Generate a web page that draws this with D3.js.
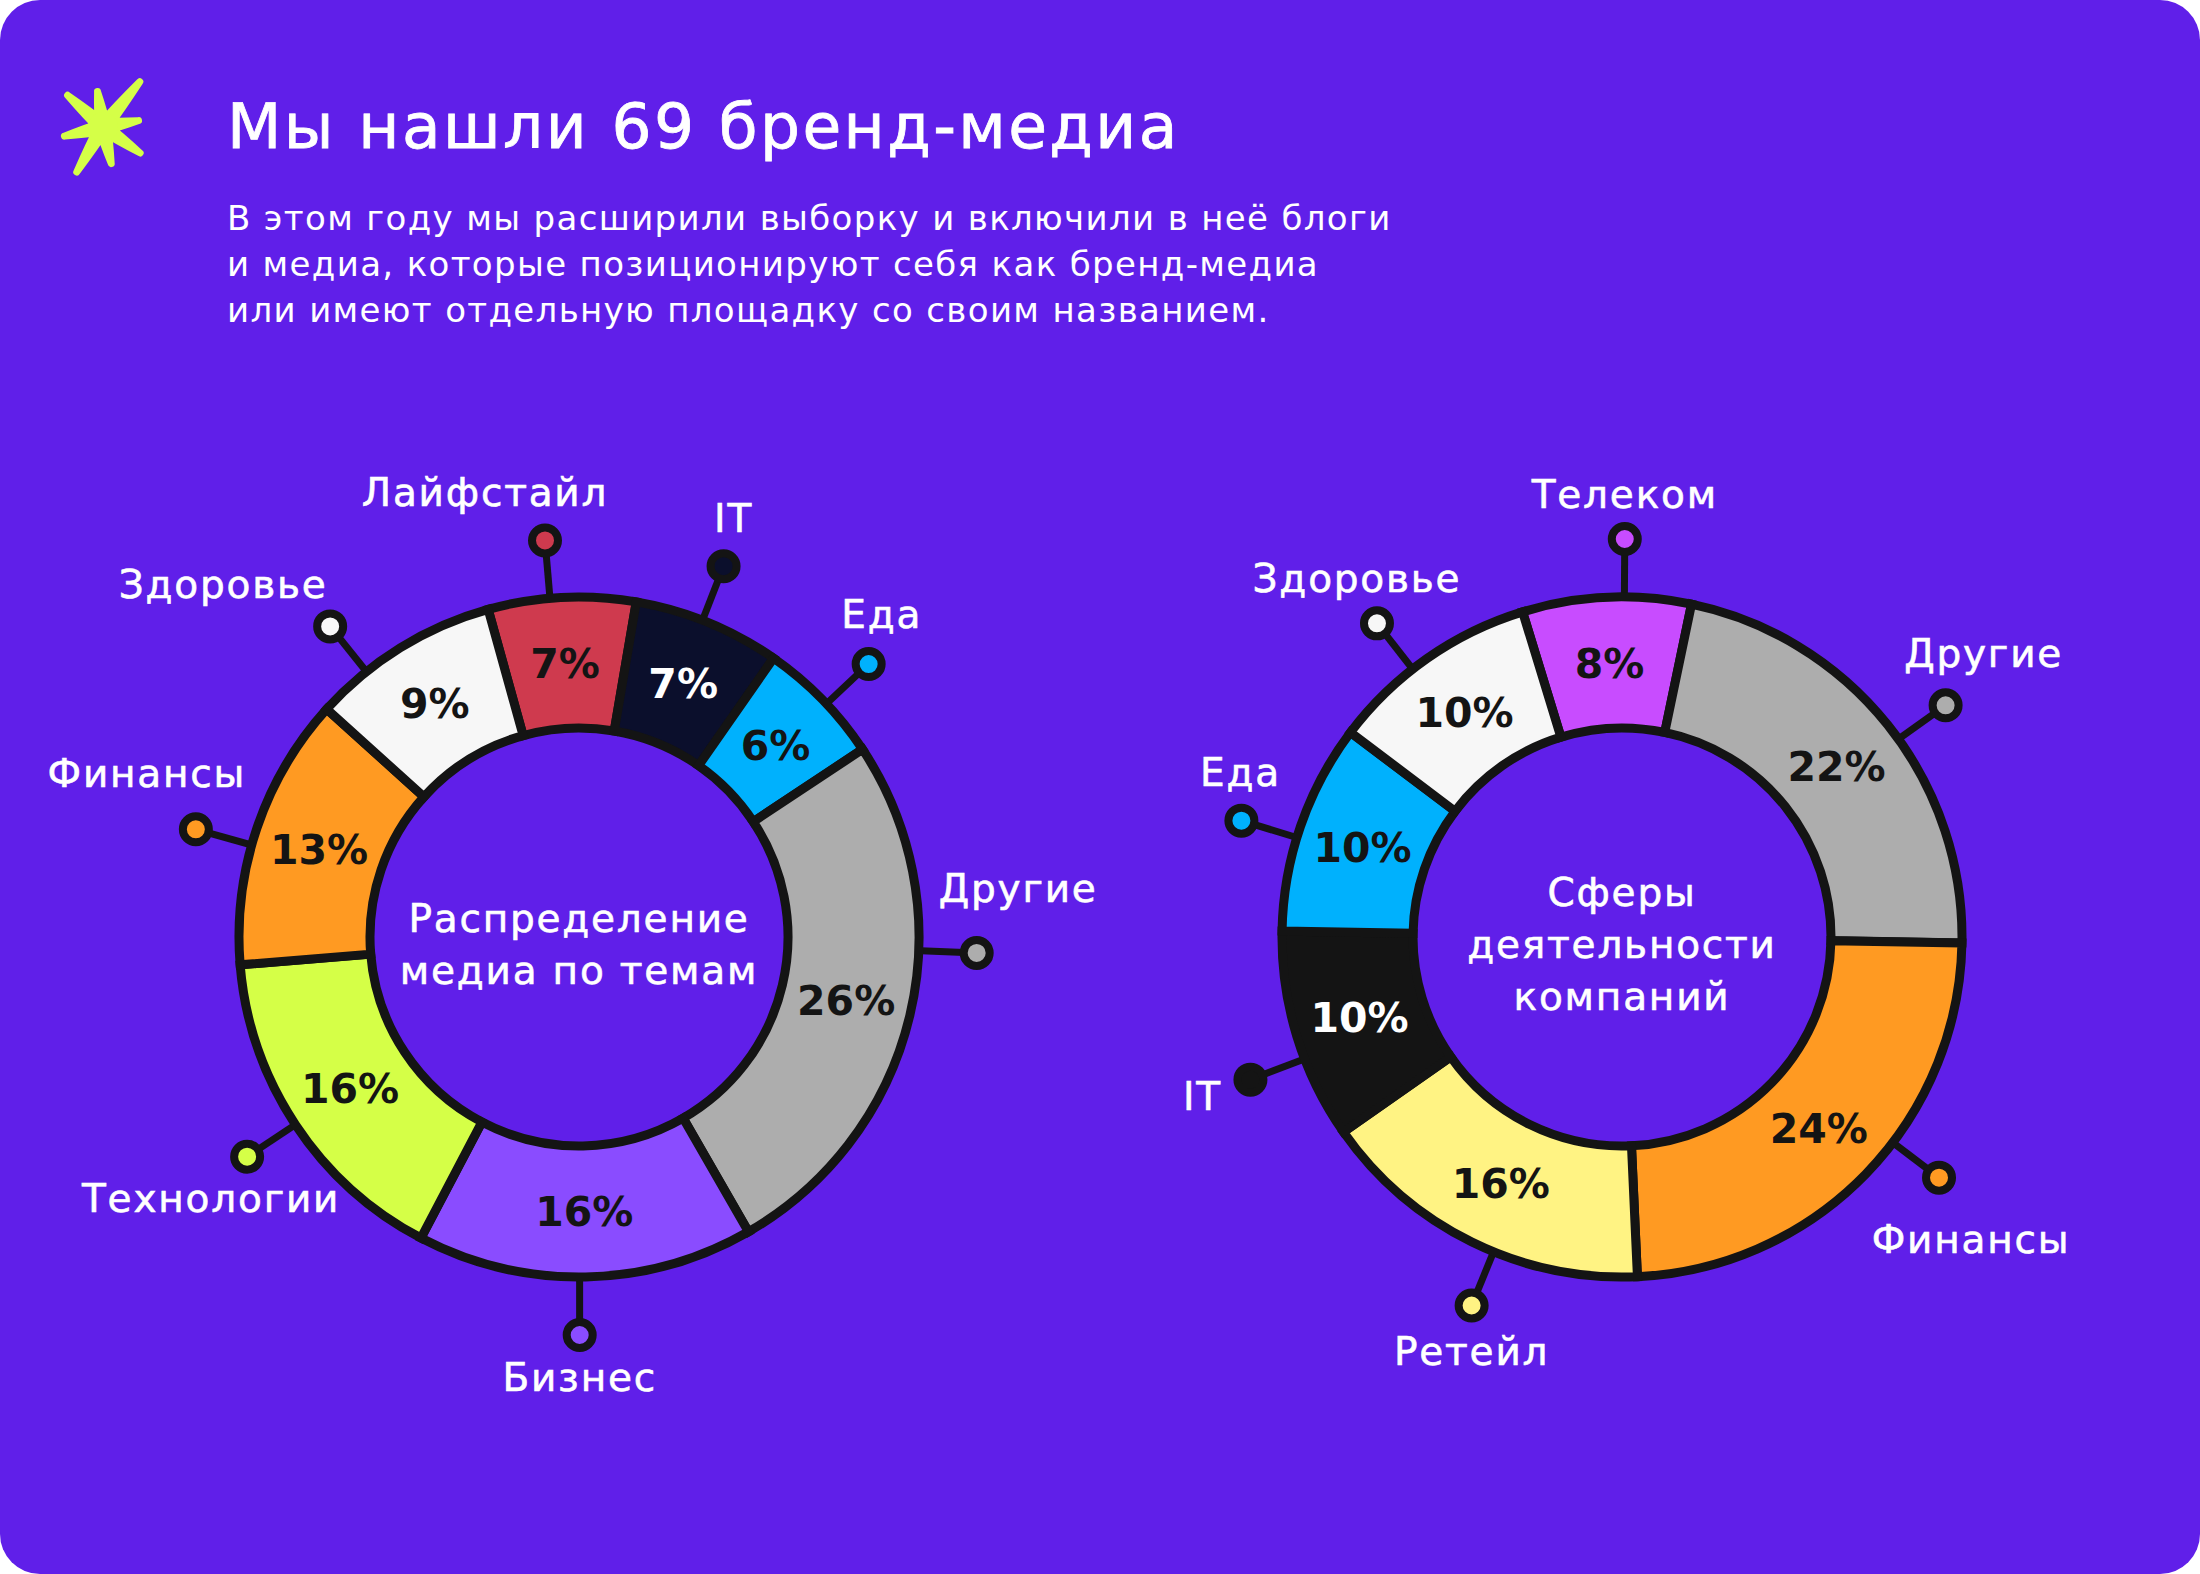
<!DOCTYPE html>
<html>
<head>
<meta charset="utf-8">
<script src="https://cdn.jsdelivr.net/npm/d3@7"></script>
<style>
  html, body { margin: 0; padding: 0; background: #ffffff; }
  svg { display: block; }
  text { font-family: "DejaVu Sans", sans-serif; }
</style>
</head>
<body>
<svg id="chart" width="2200" height="1574"></svg>
<script>
// Левая диаграмма: распределение медиа по темам (%)
const topicNames = ["Лайфстайл", "IT", "Еда", "Другие", "Бизнес", "Технологии", "Финансы", "Здоровье"];
const topicShares = [7, 7, 6, 26, 16, 16, 13, 9];
const topicColors = ["#cf3a4e", "#0b0f2c", "#00b1fd", "#adadad", "#8a4cff", "#d5ff47", "#ff9a22", "#f7f7f7"];

// Правая диаграмма: сферы деятельности компаний (%)
const sectorNames = ["Телеком", "Другие", "Финансы", "Ретейл", "IT", "Еда", "Здоровье"];
const sectorShares = [8, 22, 24, 16, 10, 10, 10];
const sectorColors = ["#c84cff", "#adadad", "#ff9a22", "#fff383", "#141414", "#00b1fd", "#f7f7f7"];

const titleText = "Мы нашли 69 бренд-медиа";
const subtitleLines = [
  "В этом году мы расширили выборку и включили в неё блоги",
  "и медиа, которые позиционируют себя как бренд-медиа",
  "или имеют отдельную площадку со своим названием."
];

const BG = "#601fe9";
const INK = "#141414";
const W = 2200, H = 1574;
const R_IN = 209, R_OUT = 340, R_DOT = 398;
const rad = (deg) => deg * Math.PI / 180;

// раскладка выносок: сдвиг угла точки (град.) и смещение подписи от точки
const topicCallouts = {
  "Лайфстайл":  { nudge: -2,  dx: -60,  dy: -48, anchor: "middle" },
  "IT":         { nudge: -1,  dx: 10,   dy: -48, anchor: "middle" },
  "Еда":        { nudge: 1,   dx: 13,   dy: -50, anchor: "middle" },
  "Другие":     { nudge: -11, dx: -38,  dy: -65, anchor: "start" },
  "Бизнес":     { nudge: 1,   dx: 0,    dy: 42,  anchor: "middle" },
  "Технологии": { nudge: 0,   dx: -36,  dy: 42,  anchor: "middle" },
  "Финансы":    { nudge: -3,  dx: -49,  dy: -56, anchor: "middle" },
  "Здоровье":   { nudge: -7,  dx: -107, dy: -42, anchor: "middle" }
};
const sectorCallouts = {
  "Телеком":  { nudge: 3,  dx: 0,   dy: -45, anchor: "middle" },
  "Другие":   { nudge: 3,  dx: 38,  dy: -52, anchor: "middle" },
  "Финансы":  { nudge: -7, dx: 32,  dy: 62,  anchor: "middle" },
  "Ретейл":   { nudge: -4, dx: 0,   dy: 46,  anchor: "middle" },
  "IT":       { nudge: -4, dx: -48, dy: 17,  anchor: "middle" },
  "Еда":      { nudge: -2, dx: -1,  dy: -48, anchor: "middle" },
  "Здоровье": { nudge: -3, dx: -20, dy: -45, anchor: "middle" }
};

const svg = d3.select("#chart");

// фон-карточка
svg.append("rect")
  .attr("width", W).attr("height", H)
  .attr("rx", 40).attr("ry", 40)
  .attr("fill", BG);

// звёздочка
drawStar(svg.append("g").attr("transform", "translate(103,127)"));

svg.append("text")
  .attr("x", 227).attr("y", 148)
  .attr("fill", "#ffffff")
  .attr("font-size", 63)
  .attr("letter-spacing", 2.4)
  .attr("stroke", "#ffffff")
  .attr("stroke-width", 0.8)
  .text(titleText);

svg.append("g").selectAll("text")
  .data(subtitleLines)
  .join("text")
  .attr("x", 227)
  .attr("y", (d, i) => 230 + i * 46)
  .attr("fill", "#ffffff")
  .attr("font-size", 34)
  .attr("letter-spacing", 1.35)
  .text(d => d);

drawDonut({
  cx: 579, cy: 937,
  names: topicNames, values: topicShares, colors: topicColors,
  start: -15.5, callouts: topicCallouts,
  center: ["Распределение", "медиа по темам"], centerY: 918
});

drawDonut({
  cx: 1622, cy: 937,
  names: sectorNames, values: sectorShares, colors: sectorColors,
  start: -17, callouts: sectorCallouts,
  center: ["Сферы", "деятельности", "компаний"], centerY: 892
});

function drawDonut(cfg) {
  const rows = cfg.names.map((n, i) => ({ name: n, value: cfg.values[i], color: cfg.colors[i] }));
  const pie = d3.pie()
    .sort(null)
    .value(d => d.value)
    .startAngle(rad(cfg.start))
    .endAngle(rad(cfg.start + 360));
  const arcs = pie(rows);
  const arc = d3.arc().innerRadius(R_IN).outerRadius(R_OUT);
  const labelArc = d3.arc().innerRadius((R_IN + R_OUT) / 2).outerRadius((R_IN + R_OUT) / 2);

  const g = svg.append("g").attr("transform", `translate(${cfg.cx},${cfg.cy})`);

  // выноски (линия + точка)
  const call = g.append("g").selectAll("g")
    .data(arcs)
    .join("g")
    .each(function (d) {
      const c = cfg.callouts[d.data.name];
      const a = (d.startAngle + d.endAngle) / 2 + rad(c.nudge);
      d.callX = Math.sin(a) * R_DOT;
      d.callY = -Math.cos(a) * R_DOT;
      d.lineX = Math.sin(a) * (R_OUT - 4);
      d.lineY = -Math.cos(a) * (R_OUT - 4);
    });
  call.append("line")
    .attr("x1", d => d.lineX).attr("y1", d => d.lineY)
    .attr("x2", d => d.callX).attr("y2", d => d.callY)
    .attr("stroke", INK).attr("stroke-width", 7);
  call.append("circle")
    .attr("cx", d => d.callX).attr("cy", d => d.callY)
    .attr("r", 13)
    .attr("fill", d => d.data.color)
    .attr("stroke", INK).attr("stroke-width", 8);
  call.append("text")
    .attr("x", d => d.callX + cfg.callouts[d.data.name].dx)
    .attr("y", d => d.callY + cfg.callouts[d.data.name].dy)
    .attr("dy", "0.35em")
    .attr("text-anchor", d => cfg.callouts[d.data.name].anchor)
    .attr("fill", "#ffffff")
    .attr("stroke", "#ffffff")
    .attr("stroke-width", 0.6)
    .attr("font-size", 39)
    .attr("letter-spacing", 1.8)
    .text(d => d.data.name);

  // кольцо
  g.append("g").selectAll("path")
    .data(arcs)
    .join("path")
    .attr("d", arc)
    .attr("fill", d => d.data.color)
    .attr("stroke", INK)
    .attr("stroke-width", 9)
    .attr("stroke-linejoin", "miter");

  // проценты
  g.append("g").selectAll("text")
    .data(arcs)
    .join("text")
    .attr("transform", d => `translate(${labelArc.centroid(d)})`)
    .attr("dy", "0.36em")
    .attr("text-anchor", "middle")
    .attr("font-size", 41)
    .attr("font-weight", 700)
    .attr("fill", d => d3.hsl(d.data.color).l < 0.2 ? "#ffffff" : INK)
    .text(d => d.data.value + "%");

  // подпись в центре
  g.append("g").selectAll("text")
    .data(cfg.center)
    .join("text")
    .attr("x", 0)
    .attr("y", (d, i) => cfg.centerY - cfg.cy + i * 52)
    .attr("dy", "0.35em")
    .attr("text-anchor", "middle")
    .attr("fill", "#ffffff")
    .attr("stroke", "#ffffff")
    .attr("stroke-width", 0.6)
    .attr("font-size", 39)
    .attr("letter-spacing", 1.8)
    .text(d => d);
}

function drawStar(g) {
  // лучи: [dx, dy] кончика от центра
  const tips = [[39, -48], [-6, -39], [-38, -34], [39, -7], [-42, 10], [40, 28], [9, 40], [-28, 48]];
  const p = d3.path();
  tips.forEach(([tx, ty]) => {
    const len = Math.hypot(tx, ty);
    const ux = tx / len, uy = ty / len;
    const nx = -uy, ny = ux;
    const base = 8, tip = 3.5;
    const ex = tx - ux * tip, ey = ty - uy * tip;
    const mx = tx * 0.4, my = ty * 0.4;
    p.moveTo(nx * base, ny * base);
    p.quadraticCurveTo(mx + nx * 7, my + ny * 7, ex + nx * tip, ey + ny * tip);
    p.arc(ex, ey, tip, Math.atan2(ny, nx), Math.atan2(-ny, -nx), true);
    p.quadraticCurveTo(mx - nx * 7, my - ny * 7, -nx * base, -ny * base);
    p.closePath();
  });
  g.append("path").attr("d", p.toString()).attr("fill", "#d5ff47");
  g.append("circle").attr("r", 15).attr("fill", "#d5ff47");
}
</script>
</body>
</html>
